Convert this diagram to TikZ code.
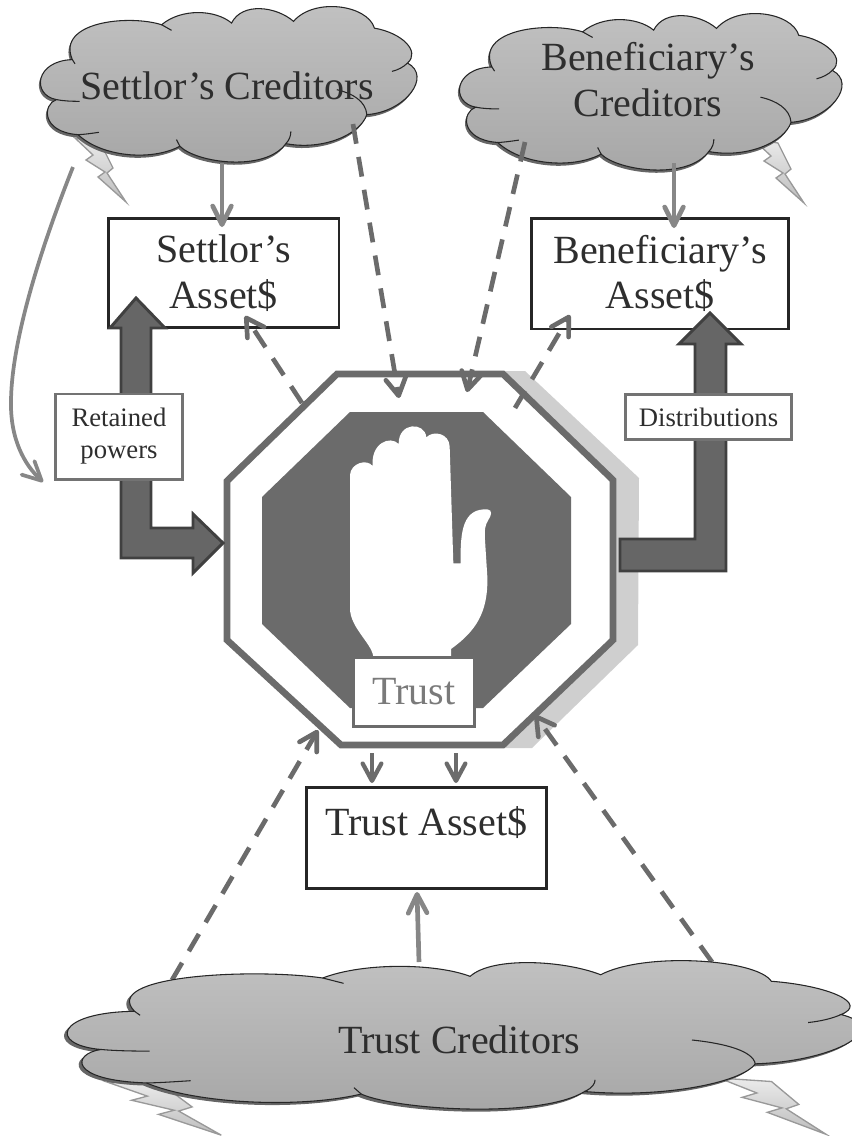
\documentclass[tikz,border=0pt]{standalone}
\usepackage{fontspec}
\setmainfont{Liberation Serif}
\usepackage{tikz}
\usetikzlibrary{arrows.meta}

\begin{document}
\begin{tikzpicture}[x=0.75pt,y=-0.75pt]
	\tikzstyle{big-text}=[text=black!82,align=center,font=\fontsize{30}{35}\selectfont]
	\tikzstyle{small-text}=[text=black!82,align=center,font=\fontsize{20}{24}\selectfont]
	\tikzstyle{asset-box}=[big-text,rectangle,draw=black!85,fill=white,line width=2pt,inner sep=0pt]
	\tikzstyle{label-box}=[small-text,rectangle,draw=black!55,fill=white,line width=2pt,inner sep=0pt]
	\tikzstyle{trust-box}=[big-text,rectangle,draw=black!58,fill=white,text=black!52,line width=2.2pt,inner sep=0pt]
	\tikzstyle{thick-arrow}=[draw=black!75,fill=black!60,line width=2.2pt,line join=miter]
	\tikzstyle{light-arrow}=[black!47,line width=3.5pt,-{Straight Barb[length=14pt,width=14pt,round]}]
	\tikzstyle{short-arrow}=[black!58,line width=3.2pt,-{Straight Barb[length=13pt,width=14pt,round]}]
	\tikzstyle{dash-arrow}=[black!58,line width=3.5pt,dash pattern=on 15pt off 10pt,-{Straight Barb[length=13pt,width=15pt,round]}]
	\tikzstyle{bolt-shape}=[draw=black!40,line width=1pt,top color=black!8,bottom color=black!26]

	\def\boltpath{(0,0) -- (25,4) -- (38,30) -- (32,35) -- (51,64) -- (23,39) -- (30,34) -- (11,22) -- (18,17) -- cycle}
	\def\cloudpath{(9.3,33.3) .. controls (-0.5,34) and (-1.5,56) .. (5.1,59.1)
		.. controls (1.5,62) and (1,80) .. (10.8,81.7)
		.. controls (17,96) and (30,99) .. (37.6,89.2)
		.. controls (42,100) and (60,106) .. (65.5,87.5)
		.. controls (75,92) and (85,82) .. (86.8,68.8)
		.. controls (97,67) and (104,44) .. (97.5,35.5)
		.. controls (101,28) and (96,16) .. (88.8,13)
		.. controls (87,-2) and (73,-7) .. (67.5,8.6)
		.. controls (63,-1) and (54,-4) .. (51.2,9.7)
		.. controls (47,1) and (38,0) .. (32.8,10.8)
		.. controls (24,4) and (5,9) .. (9.3,33.3) -- cycle}
	\def\drawbolt#1#2#3#4{
		\begin{scope}[shift={(#1,#2)},xscale=#3,yscale=#4]
			\path[bolt-shape] \boltpath;
		\end{scope}}
	\def\drawcloud#1#2#3#4{
		\begin{scope}[shift={(#1,#2)},xscale=#3,yscale=#4]
			\fill[black!60,yshift=-1.3pt,xshift=-0.3pt] \cloudpath;
			\path[draw=black!85,line width=0.8pt,top color=black!24,bottom color=black!35] \cloudpath;
			\draw[black!85,line width=0.8pt] (5.1,59.1) .. controls (7,60) and (9,60.2) .. (11.2,60.2)
				(10.8,81.7) .. controls (12,81.7) and (14,81) .. (16.3,80.2)
				(37.6,89.2) -- (36.7,84.9)
				(65.5,87.5) .. controls (66.5,85) and (66.8,82) .. (66.8,79.6)
				(86.8,68.8) .. controls (86.5,60) and (83,55) .. (78.9,52.7)
				(97.5,35.5) .. controls (96.5,38) and (95,40) .. (93.4,40.9)
				(32.8,10.8) -- (35.4,14.4)
				(9.3,33.3) -- (10,36);
		\end{scope}}

	\useasboundingbox (0,0) rectangle (852,1136);

	% lightning
	\drawbolt{75}{138}{1}{1}
	\drawbolt{753}{139}{1}{1}
	\drawbolt{107}{1082}{2.24}{0.83}
	\drawbolt{719}{1078}{2.1}{0.88}

	% upper clouds
	\drawcloud{37}{8}{3.8}{1.55}
	\drawcloud{456}{15}{3.86}{1.56}
	\node[big-text] (settlor-creditors) at (227,86) {Settlor’s Creditors};
	\node[big-text] (beneficiary-creditors) at (648,79.5) {Beneficiary’s\\Creditors};

	% asset boxes
	\node[asset-box,minimum width=173pt,minimum height=82pt] (settlor-assets) at (223.5,273) {Settlor’s\\[-1pt]Asset\$};
	\node[asset-box,minimum width=193pt,minimum height=83pt] (beneficiary-assets) at (660,273.5) {Beneficiary’s\\[-1pt]Asset\$};
	\node[asset-box,minimum width=180pt,minimum height=76pt] (trust-assets) at (426.5,838) {Trust Asset\$\\[-9pt]\mbox{}};

	% octagon
	\fill[black!19] (505,371) -- (525,371) -- (639,478) -- (638,645) -- (532,748) -- (505,748) -- cycle;
	\draw[black!58,fill=white,line width=5pt,line join=miter] (337,374) -- (503,374) -- (613,480) -- (613,640) -- (503,745) -- (341,745) -- (227,640) -- (227,481) -- cycle;
	\fill[black!58] (350,412) -- (483,412) -- (571,497) -- (571,624) -- (483,708) -- (350,708) -- (262,624) -- (262,497) -- cycle;

	% hand
	\begin{scope}[shift={(200,350)},scale=1/3]
		\fill[white] (520,925) .. controls (522,885) and (450,835) .. (450,775) -- (450,375)
			.. controls (452,340) and (500,325) .. (518,348)
			.. controls (512,280) and (570,255) .. (596,282)
			.. controls (595,215) and (675,215) .. (679,262)
			.. controls (700,240) and (748,250) .. (749,290)
			-- (760,640) -- (782,640)
			.. controls (780,540) and (790,475) .. (862,478)
			.. controls (878,480) and (875,495) .. (865,510)
			.. controls (855,525) and (853,540) .. (855,570)
			-- (862,680) .. controls (865,790) and (825,845) .. (753,897) -- (753,925) -- cycle;
	\end{scope}
	\node[trust-box,minimum width=91pt,minimum height=52pt] (trust-label) at (414,692) {Trust};

	% thick arrows
	\path[thick-arrow] (136,298) -- (165,328) -- (151,328) -- (151,528) -- (193,528) -- (193,514) -- (223,543) -- (193,573) -- (193,558) -- (121,558) -- (121,328) -- (110,328) -- cycle;
	\path[thick-arrow] (710,313) -- (741,344) -- (726,344) -- (726,571) -- (620,571) -- (620,539) -- (695,539) -- (695,344) -- (679,344) -- cycle;
	\node[label-box,minimum width=95pt,minimum height=64pt] (retained-label) at (119,436.5) {Retained\\powers};
	\node[label-box,minimum width=124.5pt,minimum height=34pt] (distributions-label) at (708.5,417) {Distributions};

	% connector ends
	\coordinate (settlor-cloud-s) at (222,163);
	\coordinate (settlor-in) at (222,227);
	\coordinate (beneficiary-cloud-s) at (674,163);
	\coordinate (beneficiary-in) at (674,228);
	\coordinate (settlor-cloud-d) at (353,124);
	\coordinate (stop-top-l) at (399,398);
	\coordinate (beneficiary-cloud-d) at (525,142);
	\coordinate (stop-top-r) at (467,392);
	\coordinate (stop-nw) at (302,403);
	\coordinate (settlor-back) at (245,316);
	\coordinate (stop-ne) at (515,408);
	\coordinate (beneficiary-back) at (570,315);
	\coordinate (stop-s1) at (372,753);
	\coordinate (assets-n1) at (372,783);
	\coordinate (stop-s2) at (456,753);
	\coordinate (assets-n2) at (456,783);
	\coordinate (trust-cloud-n) at (419,962);
	\coordinate (assets-s) at (417,892);
	\coordinate (trust-cloud-l) at (172,980);
	\coordinate (stop-sw) at (318,730);
	\coordinate (trust-cloud-r) at (712,962);
	\coordinate (stop-se) at (535,715);
	\coordinate (curve-from) at (73,167);
	\coordinate (curve-mid) at (11,400);
	\coordinate (curve-to) at (43,482);

	% connectors
	\path[light-arrow] (settlor-cloud-s) edge (settlor-in)
		(beneficiary-cloud-s) edge (beneficiary-in)
		(trust-cloud-n) edge (assets-s);
	\path[short-arrow] (stop-s1) edge (assets-n1)
		(stop-s2) edge (assets-n2);
	\path[dash-arrow] (settlor-cloud-d) edge (stop-top-l)
		(beneficiary-cloud-d) edge (stop-top-r)
		(stop-nw) edge (settlor-back)
		(stop-ne) edge (beneficiary-back)
		(trust-cloud-l) edge (stop-sw)
		(trust-cloud-r) edge (stop-se);
	\draw[light-arrow,line width=2.8pt] (curve-from) .. controls (40,250) and (12,340) .. (curve-mid) .. controls (10,440) and (25,465) .. (curve-to);

	% lower cloud
	\drawcloud{60}{962}{8.01}{1.48}
	\node[big-text] (trust-creditors) at (459,1040) {Trust Creditors};
\end{tikzpicture}
\end{document}
